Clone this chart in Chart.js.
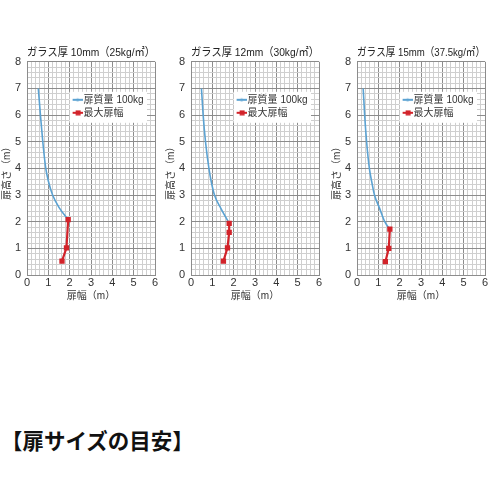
<!DOCTYPE html>
<html>
<head>
<meta charset="utf-8">
<script src="https://cdn.jsdelivr.net/npm/chart.js@4"></script>
<style>
  html, body { margin:0; padding:0; background:#fff; }
  #wrap { position:relative; width:500px; height:500px; background:#fff; overflow:hidden; }
  canvas { position:absolute; top:40px; }
  #c1 { left:0px; } #c2 { left:164px; } #c3 { left:330px; }
  #mainTitle { position:absolute; left:1px; top:427px; font-family:"Noto Sans CJK JP", sans-serif; font-weight:700; font-size:21.5px; color:#111; line-height:26px; white-space:nowrap; }
</style>
</head>
<body>
<div id="wrap">
  <canvas id="c1" width="165" height="270"></canvas>
  <canvas id="c2" width="165" height="270"></canvas>
  <canvas id="c3" width="165" height="270"></canvas>
  <div id="mainTitle">【扉サイズの目安】</div>
</div>
<script>
// ---- data ----
const chartTitles = ['ガラス厚 10mm（25kg/㎡）', 'ガラス厚 12mm（30kg/㎡）', 'ガラス厚 15mm（37.5kg/㎡）'];
const seriesNames = ['扉質量 100kg', '最大扉幅'];
const xTickLabels = ['0', '1', '2', '3', '4', '5', '6'];
const yTickLabels = ['0', '1', '2', '3', '4', '5', '6', '7', '8'];
const xAxisTitle = '扉幅（m）';
const yAxisTitle = '扉高さ（m）　';

const blue10X = [0.53, 0.63, 0.74, 0.88, 1.01, 1.2, 1.53, 1.93];
const blue10Y = [7, 6, 5, 4, 3.5, 3, 2.5, 2.08];
const red10X = [1.93, 1.85, 1.64];
const red10Y = [2.08, 1.02, 0.52];

const blue12X = [0.49, 0.57, 0.68, 0.84, 0.95, 1.1, 1.4, 1.79];
const blue12Y = [7, 6, 5, 4, 3.5, 3, 2.5, 1.94];
const red12X = [1.79, 1.79, 1.71, 1.52];
const red12Y = [1.94, 1.6, 1.02, 0.52];

const blue15X = [0.29, 0.36, 0.45, 0.58, 0.69, 0.82, 1.06, 1.3, 1.54];
const blue15Y = [7, 6, 5, 4, 3.5, 3, 2.5, 2.0, 1.72];
const red15X = [1.54, 1.49, 1.33];
const red15Y = [1.72, 1.0, 0.5];

// ---- styles ----
const BLUE = '#5ba2d2';
const RED = '#d2232a';
const MAJOR = '#8c8c8c';
const MINOR = '#cfcfcf';
const FONT = '"Liberation Sans", "Noto Sans CJK JP", sans-serif';
const NUMFONT = '"Liberation Sans", Arial, sans-serif';

function toPts(xs, ys) { return xs.map((x, i) => ({ x: x, y: ys[i] })); }

function legendImg(color, marker) {
  const c = document.createElement('canvas');
  c.width = 14; c.height = 6;
  const g = c.getContext('2d');
  g.strokeStyle = color; g.lineWidth = 2;
  g.beginPath(); g.moveTo(4, 3); g.lineTo(14, 3); g.stroke();
  g.fillStyle = color;
  if (marker === 'rect') g.fillRect(7, 0.5, 5, 5);
  else { g.beginPath(); g.arc(9, 3, 1.6, 0, Math.PI * 2); g.fill(); }
  return c;
}
const legendImgs = [legendImg(BLUE, 'dot'), legendImg(RED, 'rect')];

const legendPlace = {
  id: 'legendPlace',
  afterLayout(chart) {
    const L = chart.legend, a = chart.chartArea;
    L.left = a.left + 42.6; L.top = a.top + 30;
    L.width = 80; L.height = 32;
    L.right = L.left + 80; L.bottom = L.top + 32;
  },
  afterDatasetsDraw(chart) {
    const a = chart.chartArea, ctx = chart.ctx;
    ctx.save();
    ctx.fillStyle = '#ffffff';
    ctx.fillRect(a.left + 42.5, a.top + 30, 77.5, 31);
    ctx.restore();
    chart.legend.draw();
  }
};

function isInt(v) { return Math.abs(v - Math.round(v)) < 1e-6; }

function makeChart(id, title, bx, by, rx, ry) {
  new Chart(document.getElementById(id), {
    type: 'scatter',
    data: {
      datasets: [
        { label: seriesNames[0], data: toPts(bx, by), showLine: true, borderColor: BLUE, backgroundColor: BLUE,
          borderWidth: 1.6, pointRadius: 0, cubicInterpolationMode: 'monotone', order: 1 },
        { label: seriesNames[1], data: toPts(rx, ry), showLine: true, borderColor: RED, backgroundColor: RED,
          borderWidth: 2.2, pointStyle: 'rect', pointRadius: 2.2, order: 0 }
      ]
    },
    options: {
      responsive: false,
      animation: false,
      layout: { padding: { left: 0, right: 10, top: 0, bottom: 0 } },
      plugins: {
        title: { display: true, text: title, fullSize: false, color: '#222',
          font: { family: FONT, size: 11.5, weight: 'normal' }, padding: { top: 6, bottom: 2 } },
        legend: {
          position: 'chartArea', align: 'start',
          labels: {
            usePointStyle: true, pointStyleWidth: 6, padding: 3, color: '#333',
            font: { family: FONT, size: 10 },
            sort: (a, b) => a.datasetIndex - b.datasetIndex,
            generateLabels: (chart) => {
              const items = Chart.defaults.plugins.legend.labels.generateLabels(chart);
              items.forEach(it => { it.pointStyle = legendImgs[it.datasetIndex]; });
              return items;
            }
          }
        },
        tooltip: { enabled: false }
      },
      scales: {
        x: {
          type: 'linear', min: 0, max: 6,
          afterFit: (s) => { s.height = 35; },
          ticks: { stepSize: 0.2, autoSkip: false, maxRotation: 0, padding: 1, color: '#333',
            font: { family: NUMFONT, size: 11 },
            callback: (v) => isInt(v) ? xTickLabels[Math.round(v)] : '' },
          grid: { drawTicks: false, lineWidth: 1, color: (c) => (c.tick && isInt(c.tick.value)) ? MAJOR : MINOR },
          border: { color: MAJOR, width: 1 },
          title: { display: true, text: xAxisTitle, color: '#333', font: { family: FONT, size: 10 }, padding: { top: 0, bottom: 8 } }
        },
        y: {
          type: 'linear', min: 0, max: 8,
          afterFit: (s) => { s.width = 27; },
          ticks: { stepSize: 0.2, autoSkip: false, padding: 6, color: '#333',
            font: { family: NUMFONT, size: 11 },
            callback: (v) => isInt(v) ? yTickLabels[Math.round(v)] : '' },
          grid: { drawTicks: false, lineWidth: 1, color: (c) => (c.tick && isInt(c.tick.value)) ? MAJOR : MINOR },
          border: { color: MAJOR, width: 1 },
          title: { display: true, text: yAxisTitle, color: '#333', font: { family: FONT, size: 10 }, padding: { top: 1, bottom: 0 } }
        }
      }
    },
    plugins: [legendPlace]
  });
}

makeChart('c1', chartTitles[0], blue10X, blue10Y, red10X, red10Y);
makeChart('c2', chartTitles[1], blue12X, blue12Y, red12X, red12Y);
makeChart('c3', chartTitles[2], blue15X, blue15Y, red15X, red15Y);
</script>
</body>
</html>
